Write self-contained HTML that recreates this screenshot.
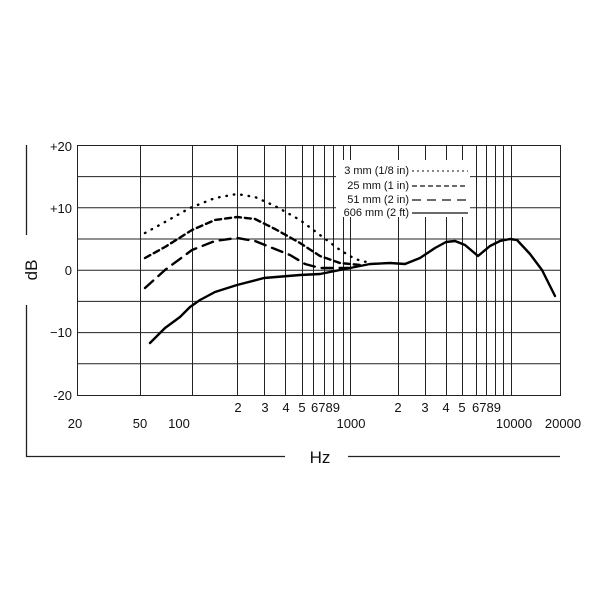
<!DOCTYPE html>
<html><head><style>body{margin:0;background:#fff}svg{display:block}text{font-family:"Liberation Sans",Arial,sans-serif;fill:#111}</style></head><body>
<svg width="600" height="600" viewBox="0 0 600 600">
<rect width="600" height="600" fill="#fff"/>
<g stroke="#222" stroke-width="1" fill="none">
<rect x="77.5" y="145.5" width="483" height="250"/>
<path d="M77 176.6H560M77 207.8H560M77 239H560M77 270.2H560M77 301.4H560M77 332.6H560M77 363.8H560"/>
<path d="M140.5 145V395M192.5 145V395M237.5 145V395M264.5 145V395M285.5 145V395M302.5 145V395M313.5 145V395M324.5 145V395M333.5 145V395M343.5 145V395M350.5 145V395M398.5 145V395M425.5 145V395M446.5 145V395M462.5 145V395M476.5 145V395M486.5 145V395M495.5 145V395M503.5 145V395M511.5 145V395"/>
<path d="M26.5 145V235M26.5 305V456.5H285M348 456.5H560" stroke-width="1.3"/>
</g>
<rect x="336" y="160" width="134" height="57" fill="#fff"/>
<g font-size="11" text-anchor="end">
<text x="409" y="174">3 mm (1/8 in)</text>
<text x="409" y="189">25 mm (1 in)</text>
<text x="409" y="203">51 mm (2 in)</text>
<text x="409" y="216">606 mm (2 ft)</text>
</g>
<g stroke="#111" fill="none">
<path d="M412 171H468" stroke-dasharray="2 3" stroke-width="1"/>
<path d="M412 186H468" stroke-dasharray="5 3" stroke-width="1.2"/>
<path d="M412 200H468" stroke-dasharray="9 6" stroke-width="1.2"/>
<path d="M412 213H468" stroke-width="1.2"/>
</g>
<g fill="none" stroke="#000" stroke-width="2.4" stroke-linejoin="round" stroke-linecap="round">
<path d="M150 343L165 328L180 317L190 307L200 300L215 292L237 285L264 278L300 275L320 274L335 271L350 268L370 264L390 263L405 264L420 258L435 248L446 242L455 241L465 245L478 256L490 246L500 241L510 239L517 240L530 254L542 270L555 296"/>
<path d="M145 233L165 222L190 208L215 198L237 194L255 197L275 206L300 220L320 235L340 250L355 259L370 263" stroke-dasharray="0.5 7"/>
<path d="M145 258L165 247L192 230L215 220L237 217L255 219L275 229L300 243L320 256L340 263L360 265" stroke-dasharray="6 4"/>
<path d="M145 288L165 270L192 250L215 241L237 238L255 241L275 249L290 255L305 264L320 268L340 268L352 268" stroke-dasharray="11 7"/>
</g>
<g font-size="13">
<text x="72" y="151" text-anchor="end">+20</text>
<text x="72" y="213" text-anchor="end">+10</text>
<text x="72" y="275" text-anchor="end">0</text>
<text x="72" y="337" text-anchor="end">−10</text>
<text x="72" y="400" text-anchor="end">-20</text>
<text x="238" y="412" text-anchor="middle">2</text>
<text x="265" y="412" text-anchor="middle">3</text>
<text x="286" y="412" text-anchor="middle">4</text>
<text x="302" y="412" text-anchor="middle">5</text>
<text x="311" y="412">6789</text>
<text x="398" y="412" text-anchor="middle">2</text>
<text x="425" y="412" text-anchor="middle">3</text>
<text x="446" y="412" text-anchor="middle">4</text>
<text x="462" y="412" text-anchor="middle">5</text>
<text x="472" y="412">6789</text>
<text x="75" y="428" text-anchor="middle">20</text>
<text x="140" y="428" text-anchor="middle">50</text>
<text x="179" y="428" text-anchor="middle">100</text>
<text x="351" y="428" text-anchor="middle">1000</text>
<text x="514" y="428" text-anchor="middle">10000</text>
<text x="563" y="428" text-anchor="middle">20000</text>
</g>
<text x="320" y="463" font-size="17" text-anchor="middle">Hz</text>
<text transform="translate(37,270) rotate(-90)" font-size="17" text-anchor="middle">dB</text>
</svg>
</body></html>
